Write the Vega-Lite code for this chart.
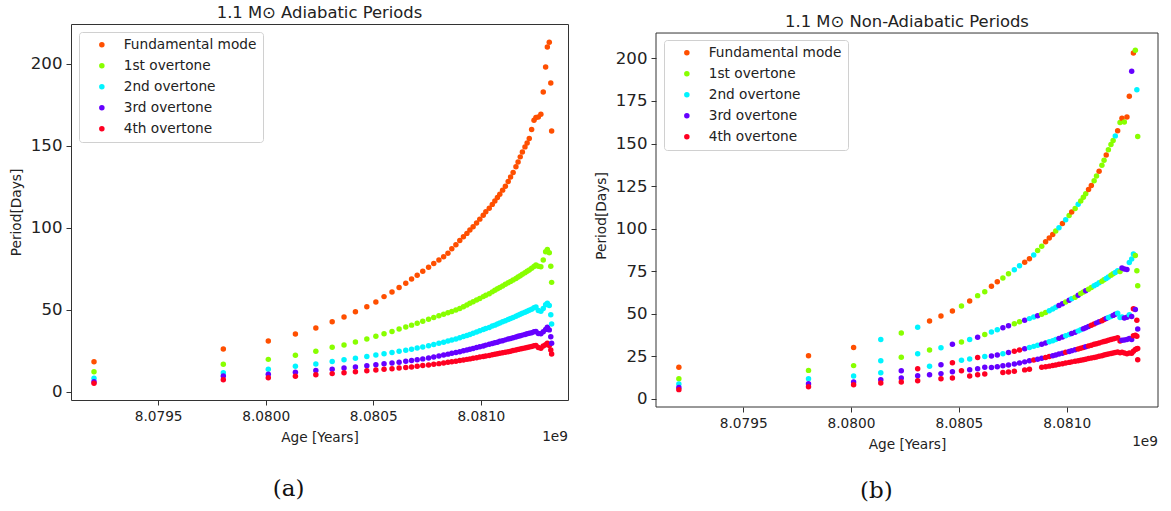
{
"$schema": "https://vega.github.io/schema/vega-lite/v6.json",
"padding": {"left": 8, "top": 4, "right": 2, "bottom": 2},
"config": {
 "font": "DejaVu Sans",
 "view": {"stroke": "#333333", "strokeWidth": 1},
 "axis": {"domain": false, "grid": false, "tickColor": "#333333", "tickSize": 5, "labelColor": "#222222", "titleColor": "#222222", "titleFontWeight": "normal", "titleFontSize": 13.7, "labelPadding": 4},
 "legend": {"orient": "top-left", "offset": 8, "padding": 6, "fillColor": "white", "strokeColor": "#d0d0d0", "cornerRadius": 3, "symbolType": "circle", "symbolSize": 30, "symbolOffset": 10, "labelFontSize": 13.7, "labelOffset": 15, "rowPadding": 6, "labelColor": "#222222"}
},
"datasets": {
"a": [
{"x":8.079202,"y":18.3,"m":0},{"x":8.079202,"y":12.2,"m":1},{"x":8.079202,"y":8.2,"m":2},{"x":8.079202,"y":6.1,"m":3},{"x":8.079202,"y":5.1,"m":4},
{"x":8.079803,"y":26.0,"m":0},{"x":8.079803,"y":16.7,"m":1},{"x":8.079803,"y":11.6,"m":2},{"x":8.079803,"y":9.6,"m":3},{"x":8.079803,"y":7.3,"m":4},
{"x":8.080012,"y":30.9,"m":0},{"x":8.080012,"y":19.7,"m":1},{"x":8.080012,"y":13.7,"m":2},{"x":8.080012,"y":10.6,"m":3},{"x":8.080012,"y":8.5,"m":4},
{"x":8.080138,"y":35.2,"m":0},{"x":8.080138,"y":22.2,"m":1},{"x":8.080138,"y":15.5,"m":2},{"x":8.080138,"y":11.8,"m":3},{"x":8.080138,"y":9.4,"m":4},
{"x":8.080233,"y":38.8,"m":0},{"x":8.080233,"y":24.6,"m":1},{"x":8.080233,"y":16.9,"m":2},{"x":8.080233,"y":12.9,"m":3},{"x":8.080233,"y":10.3,"m":4},
{"x":8.080309,"y":42.7,"m":0},{"x":8.080309,"y":27.1,"m":1},{"x":8.080309,"y":18.4,"m":2},{"x":8.080309,"y":13.7,"m":3},{"x":8.080309,"y":11.0,"m":4},
{"x":8.080364,"y":45.5,"m":0},{"x":8.080364,"y":28.5,"m":1},{"x":8.080364,"y":19.4,"m":2},{"x":8.080364,"y":14.4,"m":3},{"x":8.080364,"y":11.6,"m":4},
{"x":8.080417,"y":48.8,"m":0},{"x":8.080417,"y":30.3,"m":1},{"x":8.080417,"y":20.4,"m":2},{"x":8.080417,"y":15.1,"m":3},{"x":8.080417,"y":12.2,"m":4},
{"x":8.080470,"y":51.8,"m":0},{"x":8.080470,"y":32.1,"m":1},{"x":8.080470,"y":21.4,"m":2},{"x":8.080470,"y":15.8,"m":3},{"x":8.080470,"y":12.7,"m":4},
{"x":8.080512,"y":54.7,"m":0},{"x":8.080512,"y":33.8,"m":1},{"x":8.080512,"y":22.3,"m":2},{"x":8.080512,"y":16.4,"m":3},{"x":8.080512,"y":13.2,"m":4},
{"x":8.080550,"y":58.0,"m":0},{"x":8.080550,"y":35.3,"m":1},{"x":8.080550,"y":23.1,"m":2},{"x":8.080550,"y":17.0,"m":3},{"x":8.080550,"y":13.6,"m":4},
{"x":8.080587,"y":60.8,"m":0},{"x":8.080587,"y":36.7,"m":1},{"x":8.080587,"y":23.9,"m":2},{"x":8.080587,"y":17.5,"m":3},{"x":8.080587,"y":14.0,"m":4},
{"x":8.080620,"y":63.6,"m":0},{"x":8.080620,"y":38.2,"m":1},{"x":8.080620,"y":24.6,"m":2},{"x":8.080620,"y":18.0,"m":3},{"x":8.080620,"y":14.4,"m":4},
{"x":8.080651,"y":66.2,"m":0},{"x":8.080651,"y":39.4,"m":1},{"x":8.080651,"y":25.3,"m":2},{"x":8.080651,"y":18.5,"m":3},{"x":8.080651,"y":14.8,"m":4},
{"x":8.080678,"y":68.8,"m":0},{"x":8.080678,"y":40.6,"m":1},{"x":8.080678,"y":25.9,"m":2},{"x":8.080678,"y":19.0,"m":3},{"x":8.080678,"y":15.1,"m":4},
{"x":8.080704,"y":71.1,"m":0},{"x":8.080704,"y":41.8,"m":1},{"x":8.080704,"y":26.6,"m":2},{"x":8.080704,"y":19.5,"m":3},{"x":8.080704,"y":15.5,"m":4},
{"x":8.080730,"y":73.5,"m":0},{"x":8.080730,"y":43.0,"m":1},{"x":8.080730,"y":27.3,"m":2},{"x":8.080730,"y":20.0,"m":3},{"x":8.080730,"y":15.9,"m":4},
{"x":8.080757,"y":75.9,"m":0},{"x":8.080757,"y":44.2,"m":1},{"x":8.080757,"y":28.0,"m":2},{"x":8.080757,"y":20.6,"m":3},{"x":8.080757,"y":16.3,"m":4},
{"x":8.080781,"y":78.2,"m":0},{"x":8.080781,"y":45.3,"m":1},{"x":8.080781,"y":28.8,"m":2},{"x":8.080781,"y":21.2,"m":3},{"x":8.080781,"y":16.7,"m":4},
{"x":8.080805,"y":80.3,"m":0},{"x":8.080805,"y":46.3,"m":1},{"x":8.080805,"y":29.5,"m":2},{"x":8.080805,"y":21.8,"m":3},{"x":8.080805,"y":17.1,"m":4},
{"x":8.080827,"y":82.4,"m":0},{"x":8.080827,"y":47.2,"m":1},{"x":8.080827,"y":30.2,"m":2},{"x":8.080827,"y":22.4,"m":3},{"x":8.080827,"y":17.5,"m":4},
{"x":8.080847,"y":84.5,"m":0},{"x":8.080847,"y":48.1,"m":1},{"x":8.080847,"y":30.9,"m":2},{"x":8.080847,"y":22.9,"m":3},{"x":8.080847,"y":17.9,"m":4},
{"x":8.080865,"y":87.2,"m":0},{"x":8.080865,"y":48.9,"m":1},{"x":8.080865,"y":31.5,"m":2},{"x":8.080865,"y":23.4,"m":3},{"x":8.080865,"y":18.2,"m":4},
{"x":8.080884,"y":89.7,"m":0},{"x":8.080884,"y":49.8,"m":1},{"x":8.080884,"y":32.2,"m":2},{"x":8.080884,"y":23.9,"m":3},{"x":8.080884,"y":18.6,"m":4},
{"x":8.080902,"y":92.3,"m":0},{"x":8.080902,"y":50.8,"m":1},{"x":8.080902,"y":32.9,"m":2},{"x":8.080902,"y":24.4,"m":3},{"x":8.080902,"y":19.0,"m":4},
{"x":8.080919,"y":94.5,"m":0},{"x":8.080919,"y":51.8,"m":1},{"x":8.080919,"y":33.6,"m":2},{"x":8.080919,"y":24.9,"m":3},{"x":8.080919,"y":19.3,"m":4},
{"x":8.080935,"y":96.6,"m":0},{"x":8.080935,"y":52.9,"m":1},{"x":8.080935,"y":34.2,"m":2},{"x":8.080935,"y":25.4,"m":3},{"x":8.080935,"y":19.7,"m":4},
{"x":8.080949,"y":98.6,"m":0},{"x":8.080949,"y":53.9,"m":1},{"x":8.080949,"y":34.9,"m":2},{"x":8.080949,"y":25.9,"m":3},{"x":8.080949,"y":20.0,"m":4},
{"x":8.080964,"y":100.6,"m":0},{"x":8.080964,"y":54.9,"m":1},{"x":8.080964,"y":35.6,"m":2},{"x":8.080964,"y":26.4,"m":3},{"x":8.080964,"y":20.4,"m":4},
{"x":8.080980,"y":103.0,"m":0},{"x":8.080980,"y":55.9,"m":1},{"x":8.080980,"y":36.4,"m":2},{"x":8.080980,"y":26.9,"m":3},{"x":8.080980,"y":20.7,"m":4},
{"x":8.080995,"y":105.3,"m":0},{"x":8.080995,"y":56.9,"m":1},{"x":8.080995,"y":37.1,"m":2},{"x":8.080995,"y":27.4,"m":3},{"x":8.080995,"y":21.1,"m":4},
{"x":8.081011,"y":107.7,"m":0},{"x":8.081011,"y":58.0,"m":1},{"x":8.081011,"y":37.9,"m":2},{"x":8.081011,"y":27.9,"m":3},{"x":8.081011,"y":21.5,"m":4},
{"x":8.081023,"y":109.8,"m":0},{"x":8.081023,"y":58.8,"m":1},{"x":8.081023,"y":38.5,"m":2},{"x":8.081023,"y":28.4,"m":3},{"x":8.081023,"y":21.8,"m":4},
{"x":8.081039,"y":111.9,"m":0},{"x":8.081039,"y":59.8,"m":1},{"x":8.081039,"y":39.2,"m":2},{"x":8.081039,"y":28.9,"m":3},{"x":8.081039,"y":22.1,"m":4},
{"x":8.081053,"y":114.3,"m":0},{"x":8.081053,"y":60.9,"m":1},{"x":8.081053,"y":40.0,"m":2},{"x":8.081053,"y":29.4,"m":3},{"x":8.081053,"y":22.5,"m":4},
{"x":8.081065,"y":116.3,"m":0},{"x":8.081065,"y":61.9,"m":1},{"x":8.081065,"y":40.6,"m":2},{"x":8.081065,"y":29.8,"m":3},{"x":8.081065,"y":22.8,"m":4},
{"x":8.081077,"y":118.5,"m":0},{"x":8.081077,"y":62.8,"m":1},{"x":8.081077,"y":41.3,"m":2},{"x":8.081077,"y":30.2,"m":3},{"x":8.081077,"y":23.1,"m":4},
{"x":8.081088,"y":120.5,"m":0},{"x":8.081088,"y":63.6,"m":1},{"x":8.081088,"y":41.9,"m":2},{"x":8.081088,"y":30.7,"m":3},{"x":8.081088,"y":23.4,"m":4},
{"x":8.081101,"y":123.0,"m":0},{"x":8.081101,"y":64.5,"m":1},{"x":8.081101,"y":42.6,"m":2},{"x":8.081101,"y":31.1,"m":3},{"x":8.081101,"y":23.8,"m":4},
{"x":8.081114,"y":125.4,"m":0},{"x":8.081114,"y":65.5,"m":1},{"x":8.081114,"y":43.3,"m":2},{"x":8.081114,"y":31.6,"m":3},{"x":8.081114,"y":24.1,"m":4},
{"x":8.081127,"y":128.2,"m":0},{"x":8.081127,"y":66.5,"m":1},{"x":8.081127,"y":44.0,"m":2},{"x":8.081127,"y":32.1,"m":3},{"x":8.081127,"y":24.4,"m":4},
{"x":8.081138,"y":131.0,"m":0},{"x":8.081138,"y":67.3,"m":1},{"x":8.081138,"y":44.7,"m":2},{"x":8.081138,"y":32.5,"m":3},{"x":8.081138,"y":24.7,"m":4},
{"x":8.081150,"y":133.8,"m":0},{"x":8.081150,"y":68.2,"m":1},{"x":8.081150,"y":45.3,"m":2},{"x":8.081150,"y":32.9,"m":3},{"x":8.081150,"y":25.1,"m":4},
{"x":8.081163,"y":137.2,"m":0},{"x":8.081163,"y":69.1,"m":1},{"x":8.081163,"y":46.0,"m":2},{"x":8.081163,"y":33.4,"m":3},{"x":8.081163,"y":25.4,"m":4},
{"x":8.081173,"y":140.2,"m":0},{"x":8.081173,"y":70.0,"m":1},{"x":8.081173,"y":46.7,"m":2},{"x":8.081173,"y":33.8,"m":3},{"x":8.081173,"y":25.8,"m":4},
{"x":8.081183,"y":143.3,"m":0},{"x":8.081183,"y":70.7,"m":1},{"x":8.081183,"y":47.3,"m":2},{"x":8.081183,"y":34.1,"m":3},{"x":8.081183,"y":26.1,"m":4},
{"x":8.081193,"y":146.3,"m":0},{"x":8.081193,"y":71.6,"m":1},{"x":8.081193,"y":47.9,"m":2},{"x":8.081193,"y":34.5,"m":3},{"x":8.081193,"y":26.4,"m":4},
{"x":8.081205,"y":149.4,"m":0},{"x":8.081205,"y":72.6,"m":1},{"x":8.081205,"y":48.5,"m":2},{"x":8.081205,"y":34.9,"m":3},{"x":8.081205,"y":26.7,"m":4},
{"x":8.081215,"y":151.8,"m":0},{"x":8.081215,"y":73.5,"m":1},{"x":8.081215,"y":49.1,"m":2},{"x":8.081215,"y":35.3,"m":3},{"x":8.081215,"y":27.0,"m":4},
{"x":8.081225,"y":154.5,"m":0},{"x":8.081225,"y":74.3,"m":1},{"x":8.081225,"y":49.7,"m":2},{"x":8.081225,"y":35.6,"m":3},{"x":8.081225,"y":27.3,"m":4},
{"x":8.081236,"y":160.0,"m":0},{"x":8.081236,"y":75.3,"m":1},{"x":8.081236,"y":50.3,"m":2},{"x":8.081236,"y":36.0,"m":3},{"x":8.081236,"y":27.6,"m":4},
{"x":8.081247,"y":165.7,"m":0},{"x":8.081247,"y":76.4,"m":1},{"x":8.081247,"y":51.2,"m":2},{"x":8.081247,"y":36.5,"m":3},{"x":8.081247,"y":28.0,"m":4},
{"x":8.081256,"y":167.3,"m":0},{"x":8.081256,"y":77.3,"m":1},{"x":8.081256,"y":51.6,"m":2},{"x":8.081256,"y":36.7,"m":3},{"x":8.081256,"y":28.2,"m":4},
{"x":8.081267,"y":167.7,"m":0},{"x":8.081267,"y":76.5,"m":1},{"x":8.081267,"y":49.5,"m":2},{"x":8.081267,"y":35.5,"m":3},{"x":8.081267,"y":27.0,"m":4},
{"x":8.081279,"y":169.3,"m":0},{"x":8.081279,"y":76.2,"m":1},{"x":8.081279,"y":49.0,"m":2},{"x":8.081279,"y":35.3,"m":3},{"x":8.081279,"y":26.5,"m":4},
{"x":8.081290,"y":182.9,"m":0},{"x":8.081290,"y":80.3,"m":1},{"x":8.081290,"y":50.8,"m":2},{"x":8.081290,"y":36.5,"m":3},{"x":8.081290,"y":27.8,"m":4},
{"x":8.081301,"y":198.2,"m":0},{"x":8.081301,"y":85.4,"m":1},{"x":8.081301,"y":53.0,"m":2},{"x":8.081301,"y":38.0,"m":3},{"x":8.081301,"y":28.6,"m":4},
{"x":8.081309,"y":210.4,"m":0},{"x":8.081309,"y":86.8,"m":1},{"x":8.081309,"y":53.9,"m":2},{"x":8.081309,"y":39.3,"m":3},{"x":8.081309,"y":29.5,"m":4},
{"x":8.081318,"y":213.2,"m":0},{"x":8.081318,"y":84.8,"m":1},{"x":8.081318,"y":52.6,"m":2},{"x":8.081318,"y":37.7,"m":3},{"x":8.081318,"y":28.2,"m":4},
{"x":8.081325,"y":188.4,"m":0},{"x":8.081325,"y":76.6,"m":1},{"x":8.081325,"y":47.0,"m":2},{"x":8.081325,"y":33.5,"m":3},{"x":8.081325,"y":25.4,"m":4},
{"x":8.081329,"y":159.1,"m":0},{"x":8.081329,"y":66.7,"m":1},{"x":8.081329,"y":41.3,"m":2},{"x":8.081329,"y":29.5,"m":3},{"x":8.081329,"y":23.0,"m":4}
],
"b": [
{"x":8.079202,"y":18.6,"m":0},{"x":8.079202,"y":11.9,"m":1},{"x":8.079202,"y":8.8,"m":2},{"x":8.079202,"y":6.8,"m":3},{"x":8.079202,"y":5.5,"m":4},
{"x":8.079803,"y":25.4,"m":0},{"x":8.079803,"y":16.8,"m":1},{"x":8.079803,"y":11.9,"m":2},{"x":8.079803,"y":9.0,"m":3},{"x":8.079803,"y":7.2,"m":4},
{"x":8.080012,"y":30.3,"m":0},{"x":8.080012,"y":19.6,"m":1},{"x":8.080012,"y":13.5,"m":2},{"x":8.080012,"y":10.0,"m":3},{"x":8.080012,"y":8.4,"m":4},
{"x":8.080138,"y":35.0,"m":2},{"x":8.080138,"y":22.5,"m":2},{"x":8.080138,"y":15.4,"m":2},{"x":8.080138,"y":11.3,"m":3},{"x":8.080138,"y":9.4,"m":4},
{"x":8.080233,"y":38.7,"m":1},{"x":8.080233,"y":24.5,"m":1},{"x":8.080233,"y":16.6,"m":3},{"x":8.080233,"y":12.3,"m":3},{"x":8.080233,"y":10.0,"m":4},
{"x":8.080309,"y":42.1,"m":2},{"x":8.080309,"y":26.6,"m":2},{"x":8.080309,"y":17.8,"m":4},{"x":8.080309,"y":13.7,"m":3},{"x":8.080309,"y":10.7,"m":4},
{"x":8.080364,"y":45.8,"m":0},{"x":8.080364,"y":28.8,"m":1},{"x":8.080364,"y":19.2,"m":2},{"x":8.080364,"y":14.3,"m":3},
{"x":8.080417,"y":48.7,"m":0},{"x":8.080417,"y":30.1,"m":2},{"x":8.080417,"y":20.1,"m":3},{"x":8.080417,"y":14.9,"m":3},{"x":8.080417,"y":11.9,"m":4},
{"x":8.080470,"y":51.7,"m":0},{"x":8.080470,"y":32.1,"m":3},{"x":8.080470,"y":21.3,"m":4},{"x":8.080470,"y":16.0,"m":3},{"x":8.080470,"y":12.3,"m":4},
{"x":8.080512,"y":54.6,"m":1},{"x":8.080512,"y":33.5,"m":1},{"x":8.080512,"y":22.7,"m":2},{"x":8.080512,"y":16.6,"m":4},
{"x":8.080550,"y":57.5,"m":0},{"x":8.080550,"y":35.0,"m":2},{"x":8.080550,"y":23.5,"m":2},{"x":8.080550,"y":17.2,"m":3},{"x":8.080550,"y":13.5,"m":4},
{"x":8.080587,"y":60.7,"m":1},{"x":8.080587,"y":36.2,"m":3},{"x":8.080587,"y":24.4,"m":4},{"x":8.080587,"y":17.8,"m":3},{"x":8.080587,"y":14.3,"m":4},
{"x":8.080620,"y":63.0,"m":1},{"x":8.080620,"y":37.9,"m":1},{"x":8.080620,"y":25.0,"m":2},{"x":8.080620,"y":18.6,"m":3},{"x":8.080620,"y":14.7,"m":4},
{"x":8.080651,"y":66.2,"m":0},{"x":8.080651,"y":39.4,"m":2},{"x":8.080651,"y":25.3,"m":3},{"x":8.080651,"y":18.5,"m":3},
{"x":8.080678,"y":68.8,"m":0},{"x":8.080678,"y":40.6,"m":2},{"x":8.080678,"y":25.9,"m":3},{"x":8.080678,"y":19.0,"m":3},
{"x":8.080704,"y":71.1,"m":1},{"x":8.080704,"y":41.8,"m":3},{"x":8.080704,"y":26.6,"m":2},{"x":8.080704,"y":19.5,"m":3},{"x":8.080704,"y":15.5,"m":4},
{"x":8.080730,"y":73.5,"m":1},{"x":8.080730,"y":43.0,"m":3},{"x":8.080730,"y":27.3,"m":3},{"x":8.080730,"y":20.0,"m":3},{"x":8.080730,"y":15.9,"m":4},
{"x":8.080757,"y":75.9,"m":2},{"x":8.080757,"y":44.2,"m":1},{"x":8.080757,"y":28.0,"m":4},{"x":8.080757,"y":20.6,"m":3},{"x":8.080757,"y":16.3,"m":4},
{"x":8.080781,"y":78.2,"m":2},{"x":8.080781,"y":45.3,"m":1},{"x":8.080781,"y":28.8,"m":4},{"x":8.080781,"y":21.2,"m":3},
{"x":8.080805,"y":80.3,"m":0},{"x":8.080805,"y":46.3,"m":3},{"x":8.080805,"y":29.5,"m":3},{"x":8.080805,"y":21.8,"m":3},{"x":8.080805,"y":17.1,"m":4},
{"x":8.080827,"y":82.4,"m":0},{"x":8.080827,"y":47.2,"m":2},{"x":8.080827,"y":30.2,"m":2},{"x":8.080827,"y":22.4,"m":3},{"x":8.080827,"y":17.5,"m":4},
{"x":8.080847,"y":84.5,"m":2},{"x":8.080847,"y":48.1,"m":2},{"x":8.080847,"y":30.9,"m":2},{"x":8.080847,"y":22.9,"m":4},
{"x":8.080865,"y":87.2,"m":1},{"x":8.080865,"y":48.9,"m":3},{"x":8.080865,"y":31.5,"m":2},{"x":8.080865,"y":23.4,"m":3},
{"x":8.080884,"y":89.7,"m":1},{"x":8.080884,"y":49.8,"m":1},{"x":8.080884,"y":32.2,"m":3},{"x":8.080884,"y":23.9,"m":3},{"x":8.080884,"y":18.6,"m":4},
{"x":8.080902,"y":92.3,"m":0},{"x":8.080902,"y":50.8,"m":1},{"x":8.080902,"y":32.9,"m":3},{"x":8.080902,"y":24.4,"m":4},{"x":8.080902,"y":19.0,"m":4},
{"x":8.080919,"y":94.5,"m":0},{"x":8.080919,"y":51.8,"m":2},{"x":8.080919,"y":33.6,"m":2},{"x":8.080919,"y":24.9,"m":4},{"x":8.080919,"y":19.3,"m":4},
{"x":8.080935,"y":96.6,"m":0},{"x":8.080935,"y":52.9,"m":2},{"x":8.080935,"y":34.2,"m":2},{"x":8.080935,"y":25.4,"m":3},{"x":8.080935,"y":19.7,"m":4},
{"x":8.080949,"y":98.6,"m":1},{"x":8.080949,"y":53.9,"m":2},{"x":8.080949,"y":34.9,"m":2},{"x":8.080949,"y":25.9,"m":3},{"x":8.080949,"y":20.0,"m":4},
{"x":8.080964,"y":100.6,"m":2},{"x":8.080964,"y":54.9,"m":3},{"x":8.080964,"y":35.6,"m":3},{"x":8.080964,"y":26.4,"m":3},{"x":8.080964,"y":20.4,"m":4},
{"x":8.080980,"y":103.0,"m":0},{"x":8.080980,"y":55.9,"m":3},{"x":8.080980,"y":36.4,"m":3},{"x":8.080980,"y":26.9,"m":3},{"x":8.080980,"y":20.7,"m":4},
{"x":8.080995,"y":105.3,"m":2},{"x":8.080995,"y":56.9,"m":1},{"x":8.080995,"y":37.1,"m":2},{"x":8.080995,"y":27.4,"m":4},{"x":8.080995,"y":21.1,"m":4},
{"x":8.081011,"y":107.7,"m":1},{"x":8.081011,"y":58.0,"m":3},{"x":8.081011,"y":37.9,"m":2},{"x":8.081011,"y":27.9,"m":3},{"x":8.081011,"y":21.5,"m":4},
{"x":8.081023,"y":109.8,"m":0},{"x":8.081023,"y":58.8,"m":2},{"x":8.081023,"y":38.5,"m":3},{"x":8.081023,"y":28.4,"m":3},{"x":8.081023,"y":21.8,"m":4},
{"x":8.081039,"y":111.9,"m":1},{"x":8.081039,"y":59.8,"m":1},{"x":8.081039,"y":39.2,"m":3},{"x":8.081039,"y":28.9,"m":3},{"x":8.081039,"y":22.1,"m":4},
{"x":8.081053,"y":114.3,"m":2},{"x":8.081053,"y":60.9,"m":3},{"x":8.081053,"y":40.0,"m":2},{"x":8.081053,"y":29.4,"m":4},{"x":8.081053,"y":22.5,"m":4},
{"x":8.081065,"y":116.3,"m":1},{"x":8.081065,"y":61.9,"m":1},{"x":8.081065,"y":40.6,"m":2},{"x":8.081065,"y":29.8,"m":4},{"x":8.081065,"y":22.8,"m":4},
{"x":8.081077,"y":118.5,"m":1},{"x":8.081077,"y":62.8,"m":1},{"x":8.081077,"y":41.3,"m":3},{"x":8.081077,"y":30.2,"m":4},{"x":8.081077,"y":23.1,"m":4},
{"x":8.081088,"y":120.5,"m":1},{"x":8.081088,"y":63.6,"m":3},{"x":8.081088,"y":41.9,"m":3},{"x":8.081088,"y":30.7,"m":3},{"x":8.081088,"y":23.4,"m":4},
{"x":8.081101,"y":123.0,"m":0},{"x":8.081101,"y":64.5,"m":1},{"x":8.081101,"y":42.6,"m":3},{"x":8.081101,"y":31.1,"m":4},{"x":8.081101,"y":23.8,"m":4},
{"x":8.081114,"y":125.4,"m":0},{"x":8.081114,"y":65.5,"m":1},{"x":8.081114,"y":43.3,"m":4},{"x":8.081114,"y":31.6,"m":4},{"x":8.081114,"y":24.1,"m":4},
{"x":8.081127,"y":128.2,"m":1},{"x":8.081127,"y":66.5,"m":2},{"x":8.081127,"y":44.0,"m":4},{"x":8.081127,"y":32.1,"m":4},{"x":8.081127,"y":24.4,"m":4},
{"x":8.081138,"y":131.0,"m":1},{"x":8.081138,"y":67.3,"m":2},{"x":8.081138,"y":44.7,"m":3},{"x":8.081138,"y":32.5,"m":4},{"x":8.081138,"y":24.7,"m":4},
{"x":8.081150,"y":133.8,"m":0},{"x":8.081150,"y":68.2,"m":2},{"x":8.081150,"y":45.3,"m":3},{"x":8.081150,"y":32.9,"m":4},{"x":8.081150,"y":25.1,"m":4},
{"x":8.081163,"y":137.2,"m":1},{"x":8.081163,"y":69.1,"m":1},{"x":8.081163,"y":46.0,"m":4},{"x":8.081163,"y":33.4,"m":4},{"x":8.081163,"y":25.4,"m":4},
{"x":8.081173,"y":140.2,"m":1},{"x":8.081173,"y":70.0,"m":1},{"x":8.081173,"y":46.7,"m":4},{"x":8.081173,"y":33.8,"m":4},{"x":8.081173,"y":25.8,"m":4},
{"x":8.081183,"y":143.3,"m":0},{"x":8.081183,"y":70.7,"m":2},{"x":8.081183,"y":47.3,"m":3},{"x":8.081183,"y":34.1,"m":4},{"x":8.081183,"y":26.1,"m":4},
{"x":8.081193,"y":146.3,"m":1},{"x":8.081193,"y":71.6,"m":2},{"x":8.081193,"y":47.9,"m":2},{"x":8.081193,"y":34.5,"m":4},{"x":8.081193,"y":26.4,"m":4},
{"x":8.081205,"y":149.4,"m":1},{"x":8.081205,"y":72.6,"m":1},{"x":8.081205,"y":48.5,"m":2},{"x":8.081205,"y":34.9,"m":4},{"x":8.081205,"y":26.7,"m":4},
{"x":8.081215,"y":151.8,"m":1},{"x":8.081215,"y":73.5,"m":1},{"x":8.081215,"y":49.1,"m":3},{"x":8.081215,"y":35.3,"m":4},{"x":8.081215,"y":27.0,"m":4},
{"x":8.081225,"y":154.5,"m":2},{"x":8.081225,"y":74.3,"m":2},{"x":8.081225,"y":49.7,"m":3},{"x":8.081225,"y":35.6,"m":4},{"x":8.081225,"y":27.3,"m":4},
{"x":8.081236,"y":157.5,"m":0},{"x":8.081236,"y":75.3,"m":2},{"x":8.081236,"y":50.3,"m":2},{"x":8.081236,"y":36.0,"m":4},{"x":8.081236,"y":27.6,"m":4},
{"x":8.081247,"y":162.4,"m":1},{"x":8.081247,"y":74.8,"m":1},{"x":8.081247,"y":47.9,"m":2},{"x":8.081247,"y":34.0,"m":4},{"x":8.081247,"y":27.2,"m":4},
{"x":8.081256,"y":164.8,"m":0},{"x":8.081256,"y":76.9,"m":3},{"x":8.081256,"y":48.2,"m":2},{"x":8.081256,"y":34.5,"m":3},{"x":8.081256,"y":27.4,"m":4},
{"x":8.081267,"y":162.6,"m":1},{"x":8.081267,"y":76.3,"m":3},{"x":8.081267,"y":47.5,"m":3},{"x":8.081267,"y":34.6,"m":3},{"x":8.081267,"y":27.0,"m":4},
{"x":8.081279,"y":165.6,"m":0},{"x":8.081279,"y":76.0,"m":3},{"x":8.081279,"y":48.0,"m":3},{"x":8.081279,"y":35.0,"m":3},{"x":8.081279,"y":26.6,"m":4},
{"x":8.081290,"y":177.8,"m":0},{"x":8.081290,"y":80.2,"m":2},{"x":8.081290,"y":49.5,"m":2},{"x":8.081290,"y":35.5,"m":3},{"x":8.081290,"y":27.0,"m":4},
{"x":8.081301,"y":192.4,"m":3},{"x":8.081301,"y":82.2,"m":2},{"x":8.081301,"y":48.5,"m":3},{"x":8.081301,"y":35.0,"m":3},{"x":8.081301,"y":26.8,"m":4},
{"x":8.081309,"y":203.2,"m":0},{"x":8.081309,"y":85.1,"m":2},{"x":8.081309,"y":53.0,"m":4},{"x":8.081309,"y":37.2,"m":4},{"x":8.081309,"y":28.0,"m":4},
{"x":8.081318,"y":204.8,"m":1},{"x":8.081318,"y":84.2,"m":1},{"x":8.081318,"y":52.5,"m":3},{"x":8.081318,"y":37.5,"m":4},{"x":8.081318,"y":29.0,"m":4},
{"x":8.081325,"y":181.6,"m":2},{"x":8.081325,"y":75.3,"m":1},{"x":8.081325,"y":46.2,"m":4},{"x":8.081325,"y":36.8,"m":4},{"x":8.081325,"y":29.5,"m":4},
{"x":8.081329,"y":154.2,"m":1},{"x":8.081329,"y":66.5,"m":1},{"x":8.081329,"y":41.1,"m":3},{"x":8.081329,"y":29.6,"m":4},{"x":8.081329,"y":23.1,"m":4}
]
},
"spacing": 25,
"resolve": {"legend": {"color": "independent"}},
"hconcat": [
 {
  "title": {"text": "(a)", "orient": "bottom", "anchor": "middle", "font": "DejaVu Serif", "fontSize": 23, "fontWeight": "normal", "color": "#111111", "offset": 33},
  "resolve": {"legend": {"color": "independent"}},
  "vconcat": [
   {
    "width": 497, "height": 376,
    "title": {"text": "1.1 M⊙ Adiabatic Periods", "frame": "group", "anchor": "middle", "offset": 3, "fontSize": 16.4, "fontWeight": "normal", "color": "#222222"},
    "layer": [
     {
      "data": {"name": "a"},
      "mark": {"type": "circle", "size": 30, "opacity": 1},
      "encoding": {
       "x": {"field": "x", "type": "quantitative", "scale": {"domain": [8.079095, 8.081405], "nice": false, "zero": false}, "axis": {"values": [8.0795, 8.08, 8.0805, 8.081], "format": ".4f", "title": "Age [Years]", "labelFontSize": 13.7, "titlePadding": 8}},
       "y": {"field": "y", "type": "quantitative", "scale": {"domain": [-5.1, 224.4], "nice": false, "zero": false}, "axis": {"values": [0, 50, 100, 150, 200], "title": "Period[Days]", "labelFontSize": 16.6, "titlePadding": 7}},
       "color": {"field": "m", "type": "nominal", "scale": {"domain": [0, 1, 2, 3, 4], "range": ["#ff4f00", "#88ff00", "#00f4ff", "#6600ff", "#ff0022"]}, "legend": {"title": null, "labelExpr": "['Fundamental mode','1st overtone','2nd overtone','3rd overtone','4th overtone'][datum.value]"}}
      }
     },
     {
      "data": {"values": [{"t": "1e9"}]},
      "mark": {"type": "text", "align": "right", "baseline": "middle", "fontSize": 13.7, "color": "#222222"},
      "encoding": {"x": {"datum": 8.081405}, "y": {"datum": -27.5}, "text": {"field": "t"}}
     }
    ]
   }
  ]
 },
 {
  "title": {"text": "(b)", "orient": "bottom", "anchor": "middle", "font": "DejaVu Serif", "fontSize": 23, "fontWeight": "normal", "color": "#111111", "offset": 29},
  "resolve": {"legend": {"color": "independent"}},
  "vconcat": [
   {
    "width": 502, "height": 383,
    "view": {"stroke": null},
    "title": {"text": "1.1 M⊙ Non-Adiabatic Periods", "frame": "group", "anchor": "middle", "offset": -6, "fontSize": 16.4, "fontWeight": "normal", "color": "#222222"},
    "layer": [
     {
      "data": {"values": [{"f": 1}]},
      "mark": {"type": "rect", "filled": false, "stroke": "#333333", "strokeWidth": 1, "opacity": 1},
      "encoding": {"x": {"datum": 8.079096}, "x2": {"datum": 8.081423}, "y": {"datum": -4.7}, "y2": {"datum": 214.9}}
     },
     {
      "data": {"name": "b"},
      "mark": {"type": "circle", "size": 30, "opacity": 1},
      "encoding": {
       "x": {"field": "x", "type": "quantitative", "scale": {"domain": [8.079096, 8.081423], "nice": false, "zero": false}, "axis": {"values": [8.0795, 8.08, 8.0805, 8.081], "format": ".4f", "title": "Age [Years]", "labelFontSize": 13.7, "titlePadding": 8}},
       "y": {"field": "y", "type": "quantitative", "scale": {"domain": [-4.7, 220.2], "nice": false, "zero": false}, "axis": {"values": [0, 25, 50, 75, 100, 125, 150, 175, 200], "title": "Period[Days]", "labelFontSize": 16.6, "titlePadding": 7}},
       "color": {"field": "m", "type": "nominal", "scale": {"domain": [0, 1, 2, 3, 4], "range": ["#ff4f00", "#88ff00", "#00f4ff", "#6600ff", "#ff0022"]}, "legend": {"title": null, "orient": "none", "legendX": 8, "legendY": 16, "labelExpr": "['Fundamental mode','1st overtone','2nd overtone','3rd overtone','4th overtone'][datum.value]"}}
      }
     },
     {
      "data": {"values": [{"t": "1e9"}]},
      "mark": {"type": "text", "align": "right", "baseline": "middle", "fontSize": 13.7, "color": "#222222"},
      "encoding": {"x": {"datum": 8.081423}, "y": {"datum": -25.1}, "text": {"field": "t"}}
     }
    ]
   }
  ]
 }
]
}
